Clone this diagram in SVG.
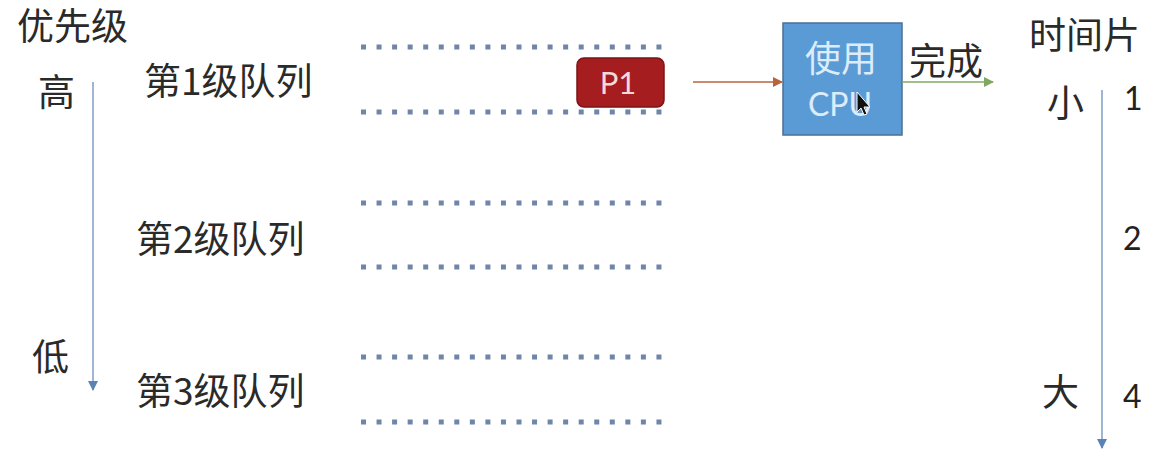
<svg xmlns="http://www.w3.org/2000/svg" width="1156" height="460" viewBox="0 0 1156 460">
<style>
.t{font-family:"Noto Sans CJK SC","Noto Sans",sans-serif;fill:#2a2a2a;font-size:37px}
.d{font-family:Lato,"Noto Sans",sans-serif;fill:#222;font-size:32px}
.q{stroke:#6f86a8;stroke-width:5;stroke-dasharray:5 10.55;fill:none}
</style>
<defs>
<marker id="ab" viewBox="0 0 10 10" refX="9" refY="5" markerWidth="10" markerHeight="10" markerUnits="userSpaceOnUse" orient="auto"><path d="M0,0L10,5L0,10z" fill="#5b82b5"/></marker>
<marker id="ar" viewBox="0 0 10 10" refX="9" refY="5" markerWidth="10" markerHeight="10" markerUnits="userSpaceOnUse" orient="auto"><path d="M0,0L10,5L0,10z" fill="#b8633e"/></marker>
<marker id="ag" viewBox="0 0 10 10" refX="9" refY="5" markerWidth="10" markerHeight="10" markerUnits="userSpaceOnUse" orient="auto"><path d="M0,0L10,5L0,10z" fill="#7fa863"/></marker>
</defs>
<rect width="1156" height="460" fill="#fff"/>
<g id="priority">
<text class="t" x="17" y="40">优先级</text>
<text class="t" x="38" y="106">高</text>
<text class="t" x="32" y="371">低</text>
</g>
<g id="queue1">
<text class="t" x="144" y="95">第1级队列</text>
<line class="q" x1="361" y1="47" x2="672" y2="47"/>
<line class="q" x1="361" y1="112" x2="672" y2="112"/>
</g>
<g id="queue2">
<text class="t" x="136" y="253">第2级队列</text>
<line class="q" x1="361" y1="203" x2="672" y2="203"/>
<line class="q" x1="361" y1="267" x2="672" y2="267"/>
</g>
<g id="queue3">
<text class="t" x="136" y="405">第3级队列</text>
<line class="q" x1="361" y1="357" x2="672" y2="357"/>
<line class="q" x1="361" y1="422" x2="672" y2="422"/>
</g>
<g id="p1">
<rect x="577" y="58" width="87" height="49" rx="7" fill="#a51d1f" stroke="#7a1416" stroke-width="1.5"/>
<text x="618" y="94" text-anchor="middle" style="font-family:Lato,'Noto Sans',sans-serif;font-size:31px;fill:#f6dada">P1</text>
</g>
<g id="cpu">
<rect x="783" y="23" width="119" height="112" fill="#5b9bd5" stroke="#4a6f94" stroke-width="1.5"/>
<text x="841" y="72" text-anchor="middle" style="font-family:'Noto Sans CJK SC',sans-serif;font-size:36px;fill:#dcecfa">使用</text>
<text x="840" y="116" text-anchor="middle" style="font-family:Lato,'Noto Sans',sans-serif;font-size:32px;fill:#dcecfa">CPU</text>
<path d="M857,92 L857,112 L861,108 L864,115 L867,114 L864,107 L870,107 Z" fill="#111" stroke="#fff" stroke-width="1"/>
</g>
<g id="timeslice">
<text class="t" x="1029" y="49">时间片</text>
<text class="t" x="1047" y="117">小</text>
<text class="t" x="1042" y="406">大</text>
<text class="d" x="1124" y="110">1</text>
<text class="d" x="1123" y="250">2</text>
<text class="d" x="1123" y="408">4</text>
</g>
<g id="connectors">
<line x1="93" y1="82" x2="93" y2="390" stroke="#7e9ec4" stroke-width="1.5" marker-end="url(#ab)"/>
<line x1="1102" y1="90" x2="1102" y2="448" stroke="#7e9ec4" stroke-width="1.5" marker-end="url(#ab)"/>
<line x1="693" y1="82" x2="782" y2="82" stroke="#b8633e" stroke-width="1.5" marker-end="url(#ar)"/>
<line x1="902" y1="82" x2="993" y2="82" stroke="#7fa863" stroke-width="1.5" marker-end="url(#ag)"/>
<text class="t" x="909" y="75">完成</text>
</g>
</svg>
